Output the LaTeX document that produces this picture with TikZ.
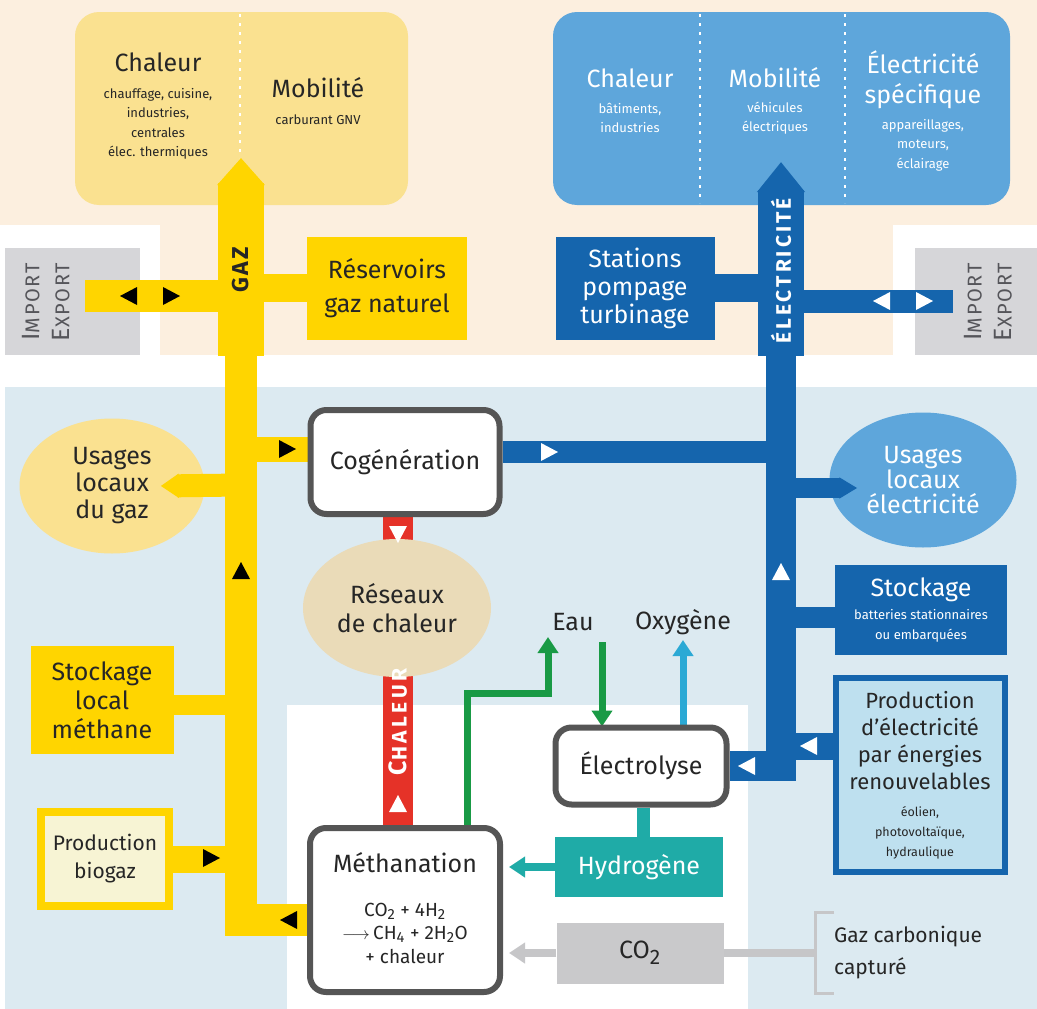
\documentclass[tikz,border=0pt]{standalone}
\usepackage{fontspec}
\setmainfont{Fira Sans}
\usetikzlibrary{shapes.geometric,arrows.meta}

\definecolor{cream}{HTML}{FCEFDF}
\definecolor{skyback}{HTML}{DCEAF1}
\definecolor{gasY}{HTML}{FFD500}
\definecolor{gasL}{HTML}{FAE190}
\definecolor{bioF}{HTML}{F7F4D4}
\definecolor{elecB}{HTML}{1565AD}
\definecolor{elecL}{HTML}{5EA6DB}
\definecolor{prodF}{HTML}{BEE0EF}
\definecolor{heatR}{HTML}{E53228}
\definecolor{beige}{HTML}{EADBB8}
\definecolor{procG}{HTML}{555555}
\definecolor{tealH}{HTML}{1FABA7}
\definecolor{greenF}{HTML}{199A45}
\definecolor{cyanO}{HTML}{2BA9D5}
\definecolor{co2G}{HTML}{C9C9CB}
\definecolor{arrowG}{HTML}{C6C6C8}
\definecolor{impG}{HTML}{D6D6D9}
\definecolor{ink}{HTML}{262626}
\definecolor{impInk}{HTML}{55555A}

\pgfdeclarelayer{back}
\pgfdeclarelayer{flow}
\pgfsetlayers{back,flow,main}

\def\flowtip[#1](#2)(#3){\fill[#1,shift={(#2)},rotate=#3] (0,0) -- (-17,9) -- (-17,-9) -- cycle;}

\begin{document}
\begin{tikzpicture}[x=1pt,y=-1pt,
  lbl/.style={font=\fontsize{25}{29}\selectfont,text=ink,align=center,inner sep=0pt},
  sml/.style={font=\fontsize{13}{19.5}\selectfont,text=ink,align=center,inner sep=0pt},
  procbox/.style={draw=procG,line width=6pt,fill=white,rounded corners=16pt,inner sep=0pt},
  gasbox/.style={fill=gasY,inner sep=0pt},
  elecbox/.style={fill=elecB,inner sep=0pt},
  busword/.style={rotate=90,inner sep=0pt,font=\bfseries\fontsize{21}{21}\selectfont\addfontfeatures{LetterSpace=14}},
  imptxt/.style={rotate=90,align=center,inner sep=0pt,text=impInk,font=\fontsize{20}{30}\selectfont\addfontfeatures{LetterSpace=8}},
  flowhead/.style={-{Triangle[length=16pt,width=20pt]}}
]
\useasboundingbox (0,0) rectangle (1037,1009);

%%%%% backgrounds
\begin{pgfonlayer}{back}
\fill[cream] (0,0) rectangle (1037,225);
\fill[cream] (160,225) rectangle (893,355);
\fill[skyback] (5,387) rectangle (1037,1009);
\fill[white] (287,705) rectangle (748,1009);
\fill[gasL,rounded corners=24pt] (75,12) rectangle (408,205);
\fill[elecL,rounded corners=24pt] (553,12) rectangle (1010,205);
\draw[white,line width=2.5pt,dash pattern=on 2.5pt off 6.5pt] (240,14) -- (240,158);
\foreach \xd in {700,845}
  \draw[white,line width=2.5pt,dash pattern=on 2.5pt off 6.5pt] (\xd,14) -- (\xd,203);
\node[fill=impG,minimum width=135pt,minimum height=107pt] (impgas) at (72.5,301.5) {};
\node[fill=impG,minimum width=122pt,minimum height=107pt] (impelec) at (976,301.5) {};
\end{pgfonlayer}

%%%%% uses (top)
\node[lbl] (gchal) at (158,62) {Chaleur};
\node[sml] (gchalsub) at (158,124) {chauffage, cuisine,\\industries,\\centrales\\élec. thermiques};
\node[lbl] (gmob) at (318,88) {Mobilité};
\node[sml] (gmobsub) at (318,120) {carburant GNV};
\node[lbl,text=white] (echal) at (630,78) {Chaleur};
\node[sml,text=white] (echalsub) at (630,118) {bâtiments,\\industries};
\node[lbl,text=white] (emob) at (775,78) {Mobilité};
\node[sml,text=white] (emobsub) at (775,118) {véhicules\\électriques};
\node[lbl,text=white,font=\fontsize{25}{30}\selectfont] (espe) at (923,80) {Électricité\\spécifique};
\node[sml,text=white] (espesub) at (923,145) {appareillages,\\moteurs,\\éclairage};

\node[imptxt] (impgastxt) at (46,302) {{\fontsize{25}{30}\selectfont I}MPORT\\{\fontsize{25}{30}\selectfont E}XPORT};
\node[imptxt] (impelectxt) at (988,302) {{\fontsize{25}{30}\selectfont I}MPORT\\{\fontsize{25}{30}\selectfont E}XPORT};

%%%%% gas side
\node[gasbox,lbl,font=\fontsize{25}{34}\selectfont,minimum width=160pt,minimum height=103pt] (resv) at (387,288) {Réservoirs\\gaz naturel};
\node[gasbox,lbl,minimum width=143pt,minimum height=108pt] (stockg) at (102,700) {Stockage\\local\\méthane};
\node[lbl,font=\fontsize{21}{28}\selectfont,fill=bioF,draw=gasY,line width=8pt,minimum width=128pt,minimum height=94pt] (biog) at (105,859) {Production\\biogaz};
\node[ellipse,fill=gasL,lbl,font=\fontsize{25}{27}\selectfont,minimum width=185pt,minimum height=135pt] (gusage) at (112,486) {Usages\\locaux\\du gaz};

%%%%% processes
\node[procbox,lbl,minimum width=189pt,minimum height=104pt] (cogen) at (405,462) {Cogénération};
\node[ellipse,fill=beige,lbl,minimum width=188pt,minimum height=138pt] (reseau) at (397,608) {Réseaux\\de chaleur};
\node[procbox,minimum width=190pt,minimum height=164pt] (methan) at (405,910) {};
\node[lbl] (methtitle) at (405,863) {Méthanation};
\node[lbl,font=\fontsize{19}{23.5}\selectfont] (methform) at (405,933) {CO{\fontsize{21}{23}\selectfont\textsubscript{2}} + 4H{\fontsize{21}{23}\selectfont\textsubscript{2}}\\$\longrightarrow$\,CH{\fontsize{21}{23}\selectfont\textsubscript{4}} + 2H{\fontsize{21}{23}\selectfont\textsubscript{2}}O\\+ chaleur};
\node[procbox,lbl,minimum width=171pt,minimum height=77pt] (elyse) at (641,766) {Électrolyse};
\node[lbl,text=white,fill=tealH,minimum width=168pt,minimum height=60pt] (hydro) at (639,867) {Hydrogène};
\node[lbl,fill=co2G,minimum width=167pt,minimum height=61pt] (co2) at (640,953) {CO{\fontsize{30}{30}\selectfont\textsubscript{2}}};
\node[lbl] (eau) at (573,622) {Eau};
\node[lbl] (oxy) at (683,622) {Oxygène};
\node[lbl,font=\fontsize{21}{32}\selectfont,align=left,anchor=west] (capt) at (834,953) {Gaz carbonique\\capturé};

%%%%% electricity side
\node[elecbox,lbl,text=white,font=\fontsize{25}{28}\selectfont,minimum width=159pt,minimum height=103pt] (stat) at (635,288) {Stations\\pompage\\turbinage};
\node[ellipse,fill=elecL,lbl,text=white,font=\fontsize{25}{25}\selectfont,minimum width=187pt,minimum height=135pt] (eusage) at (923,480) {Usages\\locaux\\électricité};
\node[elecbox,minimum width=172pt,minimum height=90pt] (stocke) at (921,610) {};
\node[lbl,text=white] (stocketitle) at (921,590) {Stockage};
\node[sml,text=white] (stockesub) at (921,626) {batteries stationnaires\\ou embarquées};
\node[fill=prodF,draw=elecB,line width=6pt,minimum width=169pt,minimum height=194pt] (prod) at (920,775) {};
\node[lbl,font=\fontsize{22}{27}\selectfont] (prodtitle) at (920,741) {Production\\d'électricité\\par énergies\\renouvelables};
\node[sml,font=\fontsize{12.5}{20}\selectfont] (prodsub) at (920,833) {éolien,\\photovoltaïque,\\hydraulique};

%%%%% flows
\coordinate (gbus) at (241,600);
\coordinate (ebus) at (781,600);
\coordinate (hx) at (398,0);
\coordinate (cgin) at ([yshift=13pt]cogen.west);
\coordinate (cgout) at ([yshift=10pt]cogen.east);
\begin{pgfonlayer}{flow}
% gaz
\draw[gasY,line width=46pt,-{Triangle[length=27pt,width=46pt]}] (241,356) -- (241,158);
\draw[gasY,line width=32pt] (241,350) -- (gbus |- 0,920) -- (methan.west |- 0,920);
\draw[gasY,line width=32pt] (85,296) -- (gbus |- 0,296);
\draw[gasY,line width=28pt] (resv.west) -- (resv.west -| gbus);
\draw[gasY,line width=25pt] (cgin) -- (cgin -| gbus);
\draw[gasY,line width=20pt] ([yshift=-5pt]stockg.east) -- ([yshift=-5pt]stockg.east -| gbus);
\draw[gasY,line width=27pt] (biog.east) -- (biog.east -| gbus);
% electricite
\draw[elecB,line width=46pt,-{Triangle[length=30pt,width=46pt]}] (781,356) -- (781,162);
\draw[elecB,line width=30pt] (781,350) -- (ebus |- elyse.east) -- (elyse.east);
\draw[elecB,line width=23pt] (ebus |- 0,301) -- (953,301);
\draw[elecB,line width=28pt] (stat.east) -- (stat.east -| ebus);
\draw[elecB,line width=22pt] (cgout) -- (cgout -| ebus);
\draw[elecB,line width=21pt] ([yshift=-7pt]stocke.west) -- ([yshift=-7pt]stocke.west -| ebus);
\draw[elecB,line width=27pt] ([yshift=29pt]prod.west) -- ([yshift=29pt]prod.west -| ebus);
% chaleur
\draw[heatR,line width=30pt] (cogen.south -| hx) -- (methan.north -| hx);
% eau, oxygene, hydrogene, co2
\draw[greenF,line width=7pt,flowhead] (methan.north -| 467,0) -- (467,693) -- (548,693) -- (548,637);
\draw[greenF,line width=7pt,flowhead] (602,642) -- ([yshift=-2pt]elyse.north -| 602,0);
\draw[cyanO,line width=7pt,flowhead] (elyse.north -| oxy) -- (683,640);
\draw[tealH,line width=13pt] (elyse.south -| 643,0) -- (hydro.north -| 643,0);
\draw[tealH,line width=8pt,flowhead] (hydro.west) -- ([xshift=6pt]hydro.west -| methan.east);
\draw[arrowG,line width=8pt,flowhead] (co2.west) -- ([xshift=6pt]co2.west -| methan.east);
\draw[arrowG,line width=8pt] (co2.east) -- (815,953);
\draw[arrowG,line width=3pt] (capt.west |- 0,912) -- (815,912) -- (815,993) -- (capt.west |- 0,993);
\end{pgfonlayer}

% arrows into the two usage ellipses
\draw[gasY,line width=23pt,-{Triangle[length=18pt,width=23pt]}] (gbus |- 0,485) -- ([xshift=-44pt]gusage.east);
\draw[elecB,line width=20pt,-{Triangle[length=18pt,width=20pt]}] (ebus |- 0,488) -- ([xshift=28pt,yshift=-8pt]eusage.west);

% words along the flows
\node[busword,text=ink,font=\bfseries\fontsize{23}{23}\selectfont\addfontfeatures{LetterSpace=10}] (gazword) at (241,270) {GAZ};
\node[busword,text=white] (elecword) at (781,271) {ÉLECTRICITÉ};
\node[busword,text=white,font=\bfseries\fontsize{21}{21}\selectfont\addfontfeatures{LetterSpace=16}] (heatword) at (398,722) {{\fontsize{25}{25}\selectfont C}HALEUR};

% flow direction marks
\flowtip[black](120,296)(180)
\flowtip[black](180,296)(0)
\flowtip[black](296,449)(0)
\flowtip[black](241,562)(90)
\flowtip[black](220,858)(0)
\flowtip[black](280,920)(180)
\flowtip[white](873,301)(180)
\flowtip[white](933,301)(0)
\flowtip[white](558,452)(0)
\flowtip[white](781,563)(90)
\flowtip[white](800,746)(180)
\flowtip[white](738,766)(180)
\flowtip[white](398,543)(270)
\flowtip[white](398,795)(90)
\end{tikzpicture}
\end{document}
